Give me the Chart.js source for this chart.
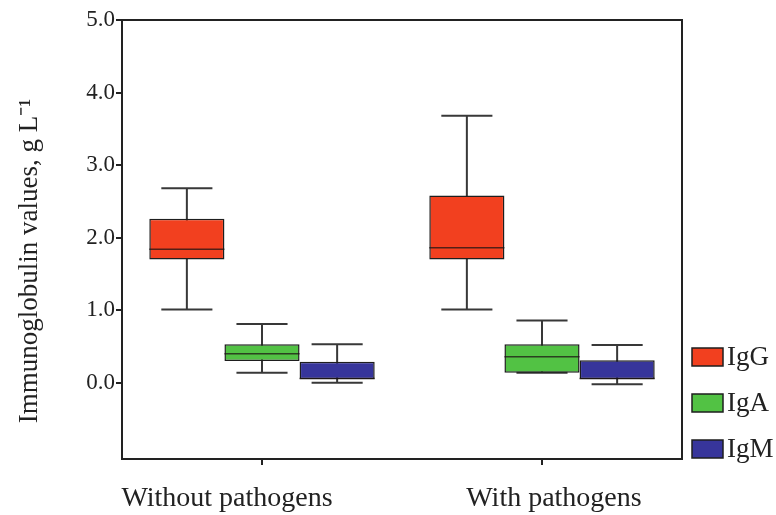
<!DOCTYPE html>
<html>
<head>
<meta charset="utf-8">
<script src="https://cdn.jsdelivr.net/npm/chart.js@4.4.1/dist/chart.umd.min.js"></script>
<style>
  html, body { margin: 0; padding: 0; background: #fff; }
  #wrap { width: 776px; height: 515px; position: relative; }
</style>
</head>
<body>
<div id="wrap"><canvas id="boxChart"></canvas></div>
<script>
// Data (g/L)
const categories = ['Without pathogens', 'With pathogens'];
const seriesNames = ['IgG', 'IgA', 'IgM'];

const igGMin    = [1.01, 1.01];
const igGQ1     = [1.70, 1.70];
const igGMedian = [1.84, 1.86];
const igGQ3     = [2.26, 2.58];
const igGMax    = [2.68, 3.68];

const igAMin    = [0.14, 0.14];
const igAQ1     = [0.30, 0.14];
const igAMedian = [0.40, 0.36];
const igAQ3     = [0.53, 0.53];
const igAMax    = [0.81, 0.86];

const igMMin    = [0.00, -0.02];
const igMQ1     = [0.05, 0.05];
const igMMedian = [0.06, 0.06];
const igMQ3     = [0.29, 0.31];
const igMMax    = [0.53, 0.52];

const yTicks = [0, 1, 2, 3, 4, 5];
const yTitle = 'Immunoglobulin values, g L\u207B\u00B9';

const serif = "'Liberation Serif', 'Times New Roman', serif";

// Colours
const colors = {
    igG: '#f2401f',
    igA: '#52c244',
    igM: '#37359b',
    edge: '#1e1e1e',
    whisker: '#383838',
    text: '#222'
};

// the category labels sit a little off their ticks in the original
const labelShift = [-35, 12];

function boxes(q1, q3) {
    return q1.map((v, i) => [v, q3[i]]);
}

const stats = [
    { min: igGMin, median: igGMedian, max: igGMax },
    { min: igAMin, median: igAMedian, max: igAMax },
    { min: igMMin, median: igMMedian, max: igMMax }
];

// Whiskers, caps and medians drawn from the stats via the y scale
const boxPlotPlugin = {
    id: 'boxPlot',
    beforeDatasetsDraw(chart) {
        const ctx = chart.ctx;
        const y = chart.scales.y;
        ctx.save();
        ctx.strokeStyle = colors.whisker;
        ctx.lineWidth = 2;
        chart.data.datasets.forEach((ds, di) => {
            const meta = chart.getDatasetMeta(di);
            meta.data.forEach((bar, i) => {
                const cap = bar.width * 0.34;
                const yMin = y.getPixelForValue(stats[di].min[i]);
                const yMax = y.getPixelForValue(stats[di].max[i]);
                ctx.beginPath();
                ctx.moveTo(bar.x, yMin);
                ctx.lineTo(bar.x, yMax);
                ctx.moveTo(bar.x - cap, yMin);
                ctx.lineTo(bar.x + cap, yMin);
                ctx.moveTo(bar.x - cap, yMax);
                ctx.lineTo(bar.x + cap, yMax);
                ctx.stroke();
            });
        });
        ctx.restore();
    },
    afterDatasetsDraw(chart) {
        const ctx = chart.ctx;
        const y = chart.scales.y;
        ctx.save();
        ctx.strokeStyle = 'rgba(30,20,20,0.75)';
        ctx.lineWidth = 1.5;
        chart.data.datasets.forEach((ds, di) => {
            const meta = chart.getDatasetMeta(di);
            meta.data.forEach((bar, i) => {
                const ym = y.getPixelForValue(stats[di].median[i]);
                ctx.beginPath();
                ctx.moveTo(bar.x - bar.width / 2, ym);
                ctx.lineTo(bar.x + bar.width / 2, ym);
                ctx.stroke();
            });
        });
        // frame round the plot
        const a = chart.chartArea;
        ctx.strokeStyle = '#222';
        ctx.lineWidth = 2;
        ctx.strokeRect(a.left, a.top, a.right - a.left, a.bottom - a.top);
        ctx.restore();
    },
    afterDraw(chart) {
        const ctx = chart.ctx;
        const a = chart.chartArea;
        const x = chart.scales.x;
        ctx.save();
        ctx.fillStyle = colors.text;

        // category labels under the ticks
        ctx.font = '28px ' + serif;
        ctx.textAlign = 'center';
        ctx.textBaseline = 'alphabetic';
        categories.forEach((c, i) => {
            ctx.fillText(c, x.getPixelForValue(i) + labelShift[i], 506);
        });

        // y axis title
        ctx.save();
        ctx.translate(30, 261);
        ctx.rotate(-Math.PI / 2);
        ctx.font = '27px ' + serif;
        ctx.textBaseline = 'middle';
        ctx.fillText(yTitle, 0, 0);
        ctx.restore();

        // legend at the lower right, outside the frame
        ctx.font = '27px ' + serif;
        ctx.textBaseline = 'middle';
        ctx.textAlign = 'left';
        const n = chart.data.datasets.length;
        chart.data.datasets.forEach((ds, di) => {
            const cy = a.bottom - 10 - (n - 1 - di) * 46;
            const x0 = a.right + 10;
            ctx.fillStyle = ds.backgroundColor;
            ctx.fillRect(x0, cy - 9, 31, 18);
            ctx.strokeStyle = colors.edge;
            ctx.lineWidth = 1.5;
            ctx.strokeRect(x0, cy - 9, 31, 18);
            ctx.fillStyle = colors.text;
            ctx.fillText(ds.label, x0 + 35, cy + 1);
        });
        ctx.restore();
    }
};

const ctx = document.getElementById('boxChart').getContext('2d');
new Chart(ctx, {
    type: 'bar',
    data: {
        labels: categories,
        datasets: [{
            label: seriesNames[0],
            data: boxes(igGQ1, igGQ3),
            backgroundColor: colors.igG,
            borderColor: colors.edge,
            borderWidth: 1.5,
            borderSkipped: false
        }, {
            label: seriesNames[1],
            data: boxes(igAQ1, igAQ3),
            backgroundColor: colors.igA,
            borderColor: colors.edge,
            borderWidth: 1.5,
            borderSkipped: false
        }, {
            label: seriesNames[2],
            data: boxes(igMQ1, igMQ3),
            backgroundColor: colors.igM,
            borderColor: colors.edge,
            borderWidth: 1.5,
            borderSkipped: false
        }]
    },
    options: {
        responsive: true,
        maintainAspectRatio: false,
        animation: false,
        categoryPercentage: 0.805,
        barPercentage: 1.0,
        layout: {
            padding: { top: 20, right: 94, bottom: 0, left: 0 }
        },
        scales: {
            x: {
                offset: true,
                grid: {
                    offset: false,
                    drawOnChartArea: false,
                    drawTicks: true,
                    tickLength: 6,
                    color: '#222',
                    lineWidth: 2
                },
                border: { display: true, color: '#111', width: 2 },
                ticks: { display: false },
                afterFit(scale) { scale.height = 56; }
            },
            y: {
                min: -1.05,
                max: 5.0,
                grid: {
                    drawOnChartArea: false,
                    drawTicks: true,
                    tickLength: 6,
                    color: '#222',
                    lineWidth: 2
                },
                border: { display: true, color: '#111', width: 2 },
                afterBuildTicks(scale) {
                    scale.ticks = yTicks.map(v => ({ value: v }));
                },
                ticks: {
                    color: colors.text,
                    padding: 1,
                    font: { family: serif, size: 23 },
                    callback: function(value) {
                        return Number(value).toFixed(1);
                    }
                },
                afterFit(scale) { scale.width = 122; }
            }
        },
        plugins: {
            legend: { display: false },
            tooltip: { enabled: false }
        }
    },
    plugins: [boxPlotPlugin]
});
</script>
</body>
</html>
